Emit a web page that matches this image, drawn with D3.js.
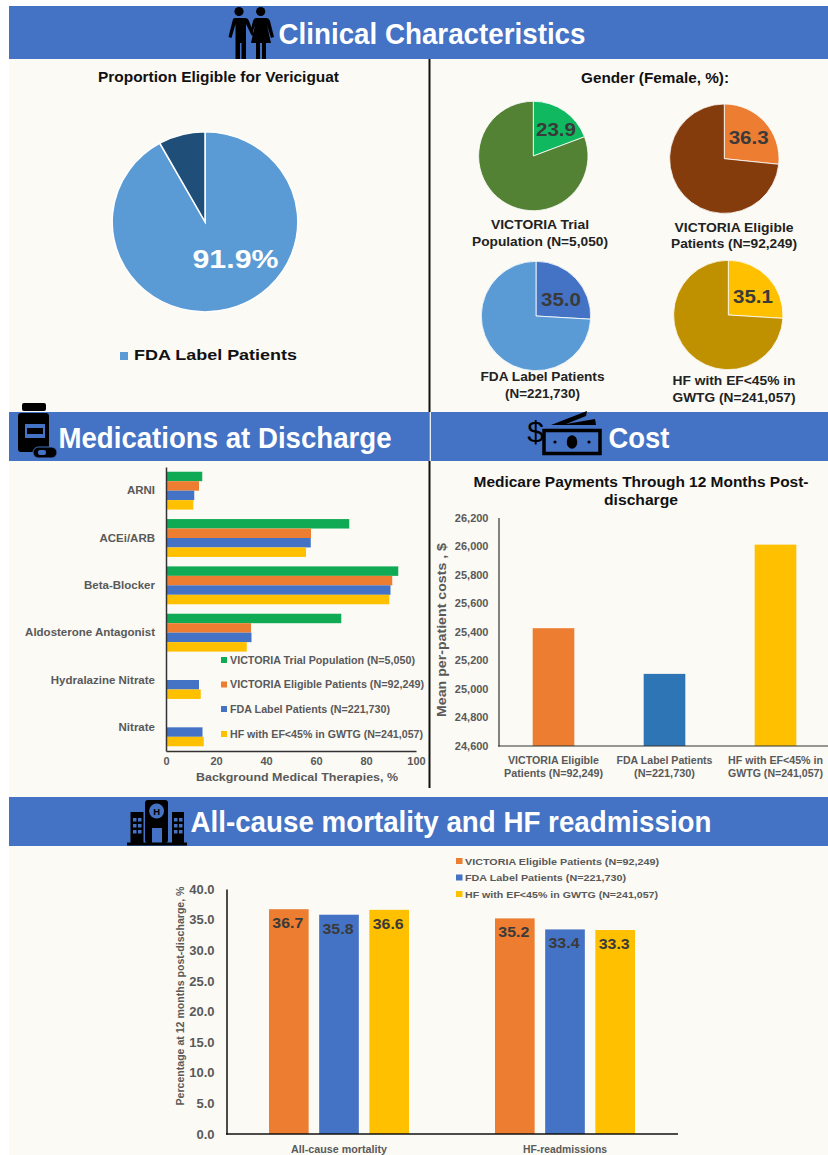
<!DOCTYPE html>
<html><head><meta charset="utf-8">
<script src="https://cdn.jsdelivr.net/npm/d3@7"></script>
<style>html,body{margin:0;padding:0;background:#fff}svg{display:block}text{font-family:"Liberation Sans",Arial,sans-serif}</style>
</head><body><svg id="c" width="828" height="1155"></svg>
<script>
const C={green:"#10a954",orange:"#ed7d31",blue:"#4472c4",yellow:"#ffc000",steel:"#2e75b6",grey:"#595959",dark:"#3b3b3b"};
const eligiblePct=[91.9,8.1];
const genderLabels=[["VICTORIA Trial","Population (N=5,050)"],["VICTORIA Eligible","Patients (N=92,249)"],["FDA Label Patients","(N=221,730)"],["HF with EF<45%  in","GWTG (N=241,057)"]];
const genderFemale=[23.9,36.3,35.0,35.1];
const genderRest=[100,100,100,100];
const medCategories=["ARNI","ACEi/ARB","Beta-Blocker","Aldosterone Antagonist","Hydralazine Nitrate","Nitrate"];
const medSeries=["VICTORIA Trial Population (N=5,050)","VICTORIA Eligible Patients (N=92,249)","FDA Label Patients (N=221,730)","HF with EF<45% in GWTG (N=241,057)"];
const medTrial=[14.5,73.3,92.9,70.1,null,null];
const medEligible=[13.2,58,90.5,34,null,null];
const medFda=[11.3,57.9,89.8,34.2,13.2,14.6];
const medGwtg=[10.9,56,89.3,32.3,13.9,15.1];
const costCategories=[["VICTORIA Eligible","Patients (N=92,249)"],["FDA Label Patients","(N=221,730)"],["HF with EF<45% in","GWTG (N=241,057)"]];
const costValues=[25425,25105,26010];
const costTicks=[24600,24800,25000,25200,25400,25600,25800,26000,26200];
const outcomeCategories=["All-cause mortality","HF-readmissions"];
const outcomeSeries=["VICTORIA Eligible Patients (N=92,249)","FDA Label Patients (N=221,730)","HF with EF<45% in GWTG (N=241,057)"];
const outcomeEligible=[36.7,35.2];
const outcomeFda=[35.8,33.4];
const outcomeGwtg=[36.6,33.3];
const outcomeTicks=[0,5,10,15,20,25,30,35,40];

const svg=d3.select("#c");
const FONT="'Liberation Sans',Arial,sans-serif";
const txt=(g,x,y,s,o={})=>g.append("text").attr("x",x).attr("y",y).text(s)
  .attr("text-anchor",o.a||"start").attr("font-size",o.fs||12).attr("font-weight",o.w||"bold").attr("fill",o.c||"#111")
  .attr("textLength",o.tl||null).attr("lengthAdjust",o.tl?"spacingAndGlyphs":null);

// page panels
svg.append("rect").attr("x",9).attr("y",6).attr("width",819).attr("height",1149).attr("fill","#fbfaf5");
svg.append("line").attr("x1",429.5).attr("x2",429.5).attr("y1",59).attr("y2",788).attr("stroke","#111").attr("stroke-width",2);
const headers=[[9,6,819,53],[9,412,420.500,49],[431,412,397,49],[9,797,819,49]];
svg.selectAll("rect.h").data(headers).join("rect").attr("class","h").attr("x",d=>d[0]).attr("y",d=>d[1]).attr("width",d=>d[2]).attr("height",d=>d[3]).attr("fill","#4472c4");
svg.append("rect").attr("x",429.500).attr("y",412).attr("width",1.500).attr("height",49).attr("fill","#e8edf5");
txt(svg,432,44,"Clinical Characteristics",{a:"middle",fs:29,c:"#fff",tl:307});
txt(svg,225,448,"Medications at Discharge",{a:"middle",fs:29,c:"#fff",tl:333});
txt(svg,639,448,"Cost",{a:"middle",fs:29,c:"#fff",tl:61});
txt(svg,451,832,"All-cause mortality and HF readmission",{a:"middle",fs:29,c:"#fff",tl:521});

// icons
const ic=svg.append("g").attr("fill","#000");
ic.append("circle").attr("cx",239).attr("cy",11.5).attr("r",4.600);
ic.append("circle").attr("cx",260.7).attr("cy",11.5).attr("r",4.600);
ic.append("path").attr("d","M235 18h10q3 0 4 3l5 13-2 2-6-12v35h-4.500V43h-1.500v16h-4.500V24l-4 14-3-1 4-16q.5-3 2.500-3z");
ic.append("path").attr("d","M256 18h10q3 0 4 3l4 16-3 1-4-13 4 18h-5v16h-4V43h-2v16h-4V43h-5l4-18-3 9-2-1 3-12q1-3 3-3z");
ic.append("rect").attr("x",22).attr("y",403).attr("width",24).attr("height",8).attr("rx",2);
ic.append("rect").attr("x",18).attr("y",413).attr("width",31).attr("height",39).attr("rx",3);
ic.append("rect").attr("x",25).attr("y",424).attr("width",20).attr("height",14).attr("fill","#4472c4");
ic.append("rect").attr("x",27).attr("y",428).attr("width",16).attr("height",6);
ic.append("rect").attr("x",33).attr("y",447).attr("width",24).attr("height",11).attr("rx",5.500).attr("stroke","#4472c4");
ic.append("rect").attr("x",38).attr("y",450).attr("width",8).attr("height",5).attr("rx",2).attr("fill","#4472c4");
ic.append("rect").attr("x",544).attr("y",430.500).attr("width",56).attr("height",23).attr("fill","none").attr("stroke","#000").attr("stroke-width",3.500);
ic.append("ellipse").attr("cx",572).attr("cy",442).attr("rx",5.300).attr("ry",6.700);
ic.append("circle").attr("cx",555).attr("cy",442).attr("r",1.600);ic.append("circle").attr("cx",589).attr("cy",442).attr("r",1.600);
ic.append("path").attr("d","M551 425L587 411 586 416 566 424 595 419 596 425Z");
txt(ic,535.500,442,"$",{fs:30,w:"normal",c:"#000",a:"middle"});
ic.append("rect").attr("x",127).attr("y",842.500).attr("width",60).attr("height",3);
ic.append("rect").attr("x",130.500).attr("y",812).attr("width",13).attr("height",31);
ic.append("rect").attr("x",172).attr("y",812).attr("width",12).attr("height",31);
ic.append("rect").attr("x",145).attr("y",800).attr("width",23).attr("height",43).attr("rx",3);
ic.append("circle").attr("cx",156.600).attr("cy",811).attr("r",7.500).attr("fill","#4472c4");
txt(ic,156.600,814.500,"H",{fs:9.500,a:"middle",c:"#000"});
ic.append("rect").attr("x",152).attr("y",828).attr("width",10).attr("height",14.500).attr("fill","#4472c4");
[[133,818],[138,818],[133,824],[138,824],[133,830],[138,830],[174,818],[179,818],[174,824],[179,824],[174,830],[179,830]].forEach(p=>ic.append("rect").attr("x",p[0]).attr("y",p[1]).attr("width",3.500).attr("height",3.500).attr("fill","#4472c4"));

// pies
const pie=d3.pie().sort(null);
const drawPie=(cx,cy,r,vals,cols,sw,sy=1)=>{
  const g=svg.append("g").attr("transform",`translate(${cx},${cy}) scale(1,${sy})`);
  g.selectAll("path").data(pie(vals)).join("path").attr("d",d3.arc().innerRadius(0).outerRadius(r)).attr("fill",(d,i)=>cols[i]).attr("stroke","#fff").attr("stroke-width",sw);
  return g;
};
txt(svg,218.500,82,"Proportion Eligible for Vericiguat",{a:"middle",fs:14.500,tl:241});
drawPie(205,221.800,92.800,eligiblePct,["#5b9bd5","#1f4e79"],1.500,0.97);
txt(svg,235.500,268,"91.9%",{a:"middle",fs:26,c:"#fff",tl:86});
svg.append("rect").attr("x",120).attr("y",352).attr("width",8).attr("height",8).attr("fill","#5b9bd5");
txt(svg,215.500,360,"FDA Label Patients",{a:"middle",fs:15,c:"#111",tl:163});

txt(svg,655,83,"Gender (Female, %):",{a:"middle",fs:14.500,tl:148});
const genderPos=[[533.300,156,"#10b860","#548235"],[724.300,158.700,"#ed7d31","#843c0c"],[536,316,"#4472c4","#5b9bd5"],[728.300,315,"#ffc000","#bf9000"]];
const genderText=[[556,136],[748.700,144],[561,305.700],[753,303]];
const genderLab=[[[540,229,98],[540,246,136]],[[734,232,119],[734,248,126]],[[542.500,381,124],[542.500,398,75]],[[734,385,123],[734,402,123]]];
genderFemale.forEach((v,i)=>{
  const p=genderPos[i];
  drawPie(p[0],p[1],54.700,[v,genderRest[i]],[p[2],p[3]],0.800);
  txt(svg,genderText[i][0],genderText[i][1],v.toFixed(1),{a:"middle",fs:19,c:"#3a3a3a",tl:40});
  genderLabels[i].forEach((s,j)=>txt(svg,genderLab[i][j][0],genderLab[i][j][1],s,{a:"middle",fs:13,c:"#222",tl:genderLab[i][j][2]}));
});

// medications bars
const mx=d3.scaleLinear().domain([0,100]).range([166,416]);
const my=d3.scaleBand().domain(medCategories).range([467,751]).paddingInner(0.2).paddingOuter(0.1);
const mIn=d3.scaleBand().domain(d3.range(4)).range([0,my.bandwidth()]);
const mCols=[C.green,C.orange,C.blue,C.yellow];
[medTrial,medEligible,medFda,medGwtg].forEach((arr,s)=>{
  const rows=arr.map((v,i)=>({v,c:medCategories[i]})).filter(d=>d.v!==null);
  svg.append("g").selectAll("rect").data(rows).join("rect")
   .attr("x",mx(0)).attr("y",d=>my(d.c)+mIn(s)).attr("width",d=>mx(d.v)-mx(0)).attr("height",mIn.bandwidth()).attr("fill",mCols[s]);
});
const mgy=svg.append("g").attr("transform","translate(166,0)").call(d3.axisLeft(my).tickSize(0).tickPadding(11));
mgy.select(".domain").attr("stroke","#333").attr("stroke-width",1.500);
mgy.selectAll("text").attr("font-size",11.500).attr("font-weight","bold").attr("fill",C.grey).attr("font-family",FONT);
const mgx=svg.append("g").attr("transform","translate(0,751)").call(d3.axisBottom(mx).tickValues([0,20,40,60,80,100]).tickSize(0).tickPadding(6));
mgx.select(".domain").attr("stroke","#333").attr("stroke-width",1.500);
mgx.selectAll("text").attr("font-size",11).attr("font-weight","bold").attr("fill",C.grey).attr("font-family",FONT);
txt(svg,297,781,"Background Medical Therapies, %",{a:"middle",fs:11.500,c:C.grey,tl:202});
const mLegY=[660,684.500,709,734];
medSeries.forEach((s,i)=>{
  svg.append("rect").attr("x",221).attr("y",mLegY[i]-3).attr("width",6).attr("height",6).attr("fill",mCols[i]);
  txt(svg,230,mLegY[i]+3.500,s,{fs:10,c:C.grey,tl:[185,194,160,193][i]});
});

// cost bars
txt(svg,641,487,"Medicare Payments Through 12 Months Post-",{a:"middle",fs:14,c:"#111",tl:335});
txt(svg,641,505,"discharge",{a:"middle",fs:14,c:"#111",tl:74});
const cx=d3.scaleBand().domain(d3.range(3)).range([498,831]).paddingInner(0.625).paddingOuter(0.3125);
const cy=d3.scaleLinear().domain([24600,26200]).range([746,517.500]);
svg.append("g").selectAll("rect").data(costValues).join("rect").attr("x",(d,i)=>cx(i)).attr("y",d=>cy(d)).attr("width",cx.bandwidth()).attr("height",d=>cy(24600)-cy(d)).attr("fill",(d,i)=>[C.orange,C.steel,C.yellow][i]);
const cgy=svg.append("g").attr("transform","translate(498.500,0)").call(d3.axisLeft(cy).tickValues(costTicks).tickSize(0).tickPadding(10).tickFormat(d3.format(",")));
cgy.select(".domain").attr("stroke","#333").attr("stroke-width",1.200);
cgy.selectAll("text").attr("font-size",11).attr("font-weight","bold").attr("fill",C.grey).attr("font-family",FONT);
svg.append("line").attr("x1",498).attr("x2",828).attr("y1",746).attr("y2",746).attr("stroke","#333").attr("stroke-width",1.200);
costCategories.forEach((l,i)=>l.forEach((s,j)=>txt(svg,cx(i)+cx.bandwidth()/2,763.500+j*13.300,s,{a:"middle",fs:10,c:C.grey,tl:[[91,99],[96,61],[95,95]][i][j]})));
txt(svg,0,0,"Mean per-patient costs , $",{a:"middle",fs:12.500,c:C.grey,tl:174}).attr("transform","translate(446,630) rotate(-90)");

// outcomes bars
const ox0=d3.scaleBand().domain(outcomeCategories).range([226,678]);
const ox1=d3.scaleBand().domain(d3.range(3)).range([0,140]).paddingInner(0.21).paddingOuter(0);
const oy=d3.scaleLinear().domain([0,40]).range([1134,889]);
const oCols=[C.orange,C.blue,C.yellow];
[outcomeEligible,outcomeFda,outcomeGwtg].forEach((arr,s)=>{
  const g=svg.append("g");
  g.selectAll("rect").data(arr).join("rect").attr("x",(d,i)=>ox0(outcomeCategories[i])+43+ox1(s)).attr("y",d=>oy(d)).attr("width",ox1.bandwidth()).attr("height",d=>oy(0)-oy(d)).attr("fill",oCols[s]);
  g.selectAll("text").data(arr).join("text").attr("x",(d,i)=>ox0(outcomeCategories[i])+43+ox1(s)+ox1.bandwidth()/2-1).attr("y",d=>oy(d)+19).attr("text-anchor","middle").attr("font-size",14.500).attr("font-weight","bold").attr("fill","#3a3a3a").attr("textLength",31).attr("lengthAdjust","spacingAndGlyphs").text(d=>d.toFixed(1));
});
const ogy=svg.append("g").attr("transform","translate(226.500,0)").call(d3.axisLeft(oy).tickValues(outcomeTicks).tickSize(0).tickPadding(12).tickFormat(d3.format(".1f")));
ogy.select(".domain").attr("stroke","#111").attr("stroke-width",1.500);
ogy.selectAll("text").attr("font-size",13).attr("font-weight","bold").attr("fill",C.grey).attr("font-family",FONT);
svg.append("line").attr("x1",226).attr("x2",678).attr("y1",1134).attr("y2",1134).attr("stroke","#111").attr("stroke-width",1.500);
outcomeCategories.forEach((c,i)=>txt(svg,ox0(c)+ox0.bandwidth()/2,1152.500,c,{a:"middle",fs:10,c:C.grey,tl:[96,84][i]}));
txt(svg,0,0,"Percentage at 12 months post-discharge, %",{a:"middle",fs:10.500,c:C.grey,tl:219}).attr("transform","translate(184,996) rotate(-90)");
const oLegY=[861,877.500,894];
outcomeSeries.forEach((s,i)=>{
  svg.append("rect").attr("x",456).attr("y",oLegY[i]-3).attr("width",6.500).attr("height",6).attr("fill",oCols[i]);
  txt(svg,465,oLegY[i]+3.500,s,{fs:9.500,c:C.grey,tl:[194,161,193][i]});
});
</script></body></html>
